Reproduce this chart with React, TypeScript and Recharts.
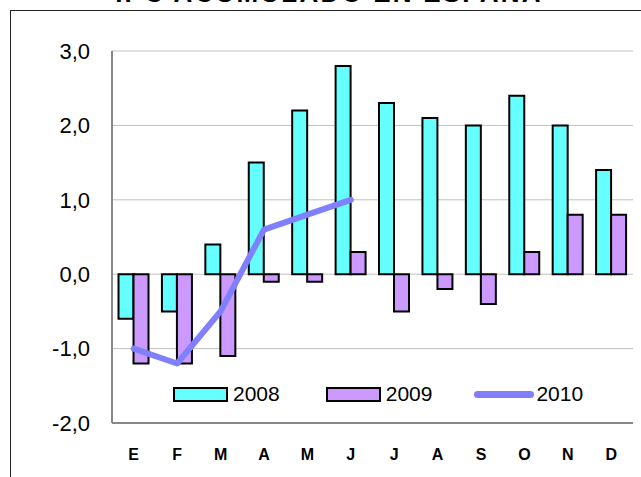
import React from 'react';
import { ComposedChart, Bar, Line, XAxis, YAxis, CartesianGrid, Legend } from 'recharts';

const months = ['E', 'F', 'M', 'A', 'M', 'J', 'J', 'A', 'S', 'O', 'N', 'D'];
const s2008 = [-0.6, -0.5, 0.4, 1.5, 2.2, 2.8, 2.3, 2.1, 2.0, 2.4, 2.0, 1.4];
const s2009 = [-1.2, -1.2, -1.1, -0.1, -0.1, 0.3, -0.5, -0.2, -0.4, 0.3, 0.8, 0.8];
const s2010: (number | null)[] = [-1.0, -1.2, -0.5, 0.6, 0.8, 1.0, null, null, null, null, null, null];
const yTicks = [-2, -1, 0, 1, 2, 3];
const title = 'IPC ACUMULADO EN ESPAÑA';

const data = months.map((m, i) => ({
  key: i,
  month: m,
  y2008: s2008[i],
  y2009: s2009[i],
  y2010: s2010[i],
}));

const FONT = 'Arial, "Liberation Sans", sans-serif';

const renderLegend = (props: any) => {
  const payload = props.payload || [];
  return (
    <div style={{ display: 'flex', alignItems: 'center', fontFamily: FONT, fontSize: 21, color: '#000' }}>
      {payload.map((p: any, i: number) => (
        <div key={i} style={{ display: 'flex', alignItems: 'center', marginRight: i === 0 ? 46 : 42 }}>
          {p.type === 'line' ? (
            <div style={{ width: 60, height: 7, borderRadius: 4, background: p.color, marginRight: 2 }} />
          ) : (
            <div style={{ width: 51, height: 11, background: p.color, border: '2px solid #000', marginRight: 5 }} />
          )}
          <span>{p.value}</span>
        </div>
      ))}
    </div>
  );
};

export default function App() {
  return (
    <div style={{ position: 'absolute', left: 0, top: 0, width: 641, height: 477, overflow: 'hidden', background: '#fff' }}>
      <svg width={641} height={20} style={{ position: 'absolute', left: 0, top: 0 }}>
        <text x={329} y={2} textAnchor="middle" fontFamily={FONT} fontWeight="bold" fontSize={26} letterSpacing={2.2} fill="#000">
          {title}
        </text>
      </svg>
      <div style={{ position: 'absolute', left: 10, top: 10, width: 700, height: 500, borderTop: '1.5px solid #222', borderLeft: '1.5px solid #222' }} />
      <div style={{ position: 'absolute', left: 0, top: 0 }}>
        <ComposedChart
          width={641}
          height={477}
          data={data}
          margin={{ top: 51, right: 8, bottom: 24, left: 12 }}
          barGap={0}
          barCategoryGap="15%"
        >
          <CartesianGrid horizontal={true} vertical={false} stroke="#c0c0c0" strokeWidth={1} />
          <XAxis
            dataKey="key"
            tickFormatter={(v: number) => months[v]}
            height={30}
            axisLine={{ stroke: '#888', strokeWidth: 2 }}
            tickLine={false}
            tickSize={0}
            tickMargin={26}
            interval={0}
            tick={{ fill: '#000', fontSize: 16, fontWeight: 'bold', fontFamily: FONT }}
          />
          <XAxis xAxisId="top" dataKey="key" orientation="top" height={0} tick={false} tickLine={false} axisLine={{ stroke: '#888', strokeWidth: 2 }} />
          <YAxis
            width={100}
            domain={[-2, 3]}
            ticks={yTicks}
            interval={0}
            allowDataOverflow
            tickFormatter={(v: number) => v.toFixed(1).replace('.', ',')}
            axisLine={{ stroke: '#888', strokeWidth: 2 }}
            tickLine={false}
            tickSize={0}
            tickMargin={22}
            tick={{ fill: '#000', fontSize: 22, fontFamily: FONT }}
          />
          <YAxis yAxisId="right" orientation="right" width={0} domain={[-2, 3]} tick={false} tickLine={false} axisLine={{ stroke: '#888', strokeWidth: 2 }} />
          <Bar dataKey="y2008" name="2008" fill="#66ffff" stroke="#000" strokeWidth={2} isAnimationActive={false} />
          <Bar dataKey="y2009" name="2009" fill="#cc99ff" stroke="#000" strokeWidth={2} isAnimationActive={false} />
          <Line dataKey="y2010" name="2010" type="linear" stroke="#8080ff" strokeWidth={6} strokeLinecap="round" strokeLinejoin="round" dot={false} activeDot={false} isAnimationActive={false} />
          <Legend
            layout="horizontal"
            verticalAlign="middle"
            align="center"
            content={renderLegend}
            wrapperStyle={{ position: 'absolute', top: 382, left: 173, width: 460, height: 24 }}
          />
        </ComposedChart>
      </div>
    </div>
  );
}
